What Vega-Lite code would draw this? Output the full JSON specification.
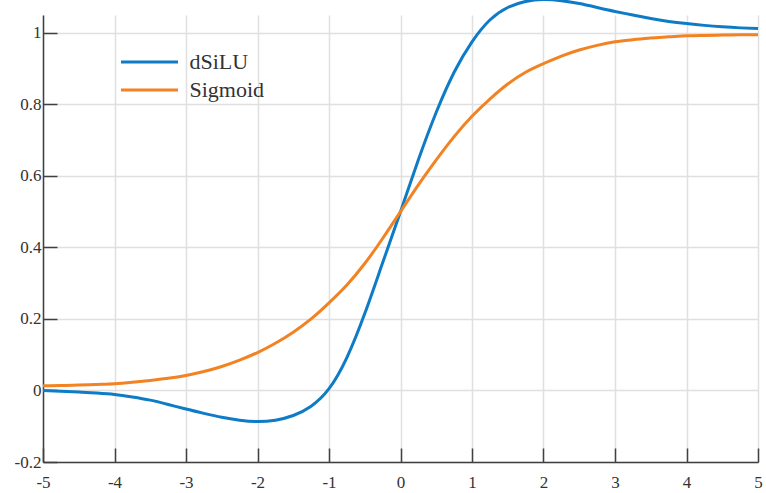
{
  "$schema": "https://vega.github.io/schema/vega-lite/v6.json",
  "width": 715,
  "height": 447,
  "autosize": {"type": "none"},
  "padding": {"left": 43, "top": 15, "right": 8, "bottom": 31},
  "background": "white",
  "config": {
    "view": {"stroke": null},
    "font": "Liberation Serif",
    "axis": {"labelFont": "Liberation Serif", "labelFontSize": 17, "labelColor": "#333333"},
    "legend": {"labelFont": "Liberation Serif"}
  },
  "data": {"values": [
    {"x": -5, "s": "dSiLU", "y": 0.000}, {"x": -4.75, "s": "dSiLU", "y": -0.002}, {"x": -4.5, "s": "dSiLU", "y": -0.004}, {"x": -4.25, "s": "dSiLU", "y": -0.007},
    {"x": -4, "s": "dSiLU", "y": -0.011}, {"x": -3.75, "s": "dSiLU", "y": -0.018}, {"x": -3.5, "s": "dSiLU", "y": -0.027}, {"x": -3.25, "s": "dSiLU", "y": -0.039},
    {"x": -3, "s": "dSiLU", "y": -0.052}, {"x": -2.75, "s": "dSiLU", "y": -0.064}, {"x": -2.5, "s": "dSiLU", "y": -0.075}, {"x": -2.25, "s": "dSiLU", "y": -0.083},
    {"x": -2, "s": "dSiLU", "y": -0.087}, {"x": -1.75, "s": "dSiLU", "y": -0.083}, {"x": -1.5, "s": "dSiLU", "y": -0.070}, {"x": -1.25, "s": "dSiLU", "y": -0.044},
    {"x": -1, "s": "dSiLU", "y": 0.005}, {"x": -0.75, "s": "dSiLU", "y": 0.092}, {"x": -0.5, "s": "dSiLU", "y": 0.215}, {"x": -0.25, "s": "dSiLU", "y": 0.357},
    {"x": 0, "s": "dSiLU", "y": 0.500}, {"x": 0.25, "s": "dSiLU", "y": 0.645}, {"x": 0.5, "s": "dSiLU", "y": 0.778}, {"x": 0.75, "s": "dSiLU", "y": 0.890},
    {"x": 1, "s": "dSiLU", "y": 0.975}, {"x": 1.25, "s": "dSiLU", "y": 1.036}, {"x": 1.5, "s": "dSiLU", "y": 1.071}, {"x": 1.75, "s": "dSiLU", "y": 1.088},
    {"x": 2, "s": "dSiLU", "y": 1.093}, {"x": 2.25, "s": "dSiLU", "y": 1.090}, {"x": 2.5, "s": "dSiLU", "y": 1.082}, {"x": 2.75, "s": "dSiLU", "y": 1.071},
    {"x": 3, "s": "dSiLU", "y": 1.060}, {"x": 3.25, "s": "dSiLU", "y": 1.050}, {"x": 3.5, "s": "dSiLU", "y": 1.040}, {"x": 3.75, "s": "dSiLU", "y": 1.032},
    {"x": 4, "s": "dSiLU", "y": 1.026}, {"x": 4.25, "s": "dSiLU", "y": 1.021}, {"x": 4.5, "s": "dSiLU", "y": 1.017}, {"x": 4.75, "s": "dSiLU", "y": 1.014},
    {"x": 5, "s": "dSiLU", "y": 1.012},
    {"x": -5, "s": "Sigmoid", "y": 0.013}, {"x": -4.75, "s": "Sigmoid", "y": 0.014}, {"x": -4.5, "s": "Sigmoid", "y": 0.015}, {"x": -4.25, "s": "Sigmoid", "y": 0.017},
    {"x": -4, "s": "Sigmoid", "y": 0.019}, {"x": -3.75, "s": "Sigmoid", "y": 0.023}, {"x": -3.5, "s": "Sigmoid", "y": 0.028}, {"x": -3.25, "s": "Sigmoid", "y": 0.034},
    {"x": -3, "s": "Sigmoid", "y": 0.042}, {"x": -2.75, "s": "Sigmoid", "y": 0.053}, {"x": -2.5, "s": "Sigmoid", "y": 0.067}, {"x": -2.25, "s": "Sigmoid", "y": 0.085},
    {"x": -2, "s": "Sigmoid", "y": 0.106}, {"x": -1.75, "s": "Sigmoid", "y": 0.132}, {"x": -1.5, "s": "Sigmoid", "y": 0.163}, {"x": -1.25, "s": "Sigmoid", "y": 0.200},
    {"x": -1, "s": "Sigmoid", "y": 0.245}, {"x": -0.75, "s": "Sigmoid", "y": 0.295}, {"x": -0.5, "s": "Sigmoid", "y": 0.355}, {"x": -0.25, "s": "Sigmoid", "y": 0.425},
    {"x": 0, "s": "Sigmoid", "y": 0.500}, {"x": 0.25, "s": "Sigmoid", "y": 0.575}, {"x": 0.5, "s": "Sigmoid", "y": 0.645}, {"x": 0.75, "s": "Sigmoid", "y": 0.710},
    {"x": 1, "s": "Sigmoid", "y": 0.767}, {"x": 1.25, "s": "Sigmoid", "y": 0.815}, {"x": 1.5, "s": "Sigmoid", "y": 0.857}, {"x": 1.75, "s": "Sigmoid", "y": 0.890},
    {"x": 2, "s": "Sigmoid", "y": 0.914}, {"x": 2.25, "s": "Sigmoid", "y": 0.935}, {"x": 2.5, "s": "Sigmoid", "y": 0.952}, {"x": 2.75, "s": "Sigmoid", "y": 0.965},
    {"x": 3, "s": "Sigmoid", "y": 0.975}, {"x": 3.25, "s": "Sigmoid", "y": 0.981}, {"x": 3.5, "s": "Sigmoid", "y": 0.986}, {"x": 3.75, "s": "Sigmoid", "y": 0.989},
    {"x": 4, "s": "Sigmoid", "y": 0.992}, {"x": 4.25, "s": "Sigmoid", "y": 0.993}, {"x": 4.5, "s": "Sigmoid", "y": 0.994}, {"x": 4.75, "s": "Sigmoid", "y": 0.995},
    {"x": 5, "s": "Sigmoid", "y": 0.995}
  ]},
  "mark": {"type": "line", "interpolate": "natural", "strokeWidth": 3, "clip": false},
  "encoding": {
    "x": {
      "field": "x", "type": "quantitative",
      "scale": {"domain": [-5, 5], "nice": false, "zero": false},
      "axis": {
        "title": null, "values": [-5, -4, -3, -2, -1, 0, 1, 2, 3, 4, 5],
        "labelExpr": "'' + datum.value",
        "grid": true, "gridColor": "#e0e0e0", "gridWidth": 1.5,
        "domainColor": "#404040", "domainWidth": 1.5,
        "tickColor": "#404040", "tickWidth": 1.5, "tickSize": -14,
        "labelPadding": 26, "labelFontSize": 17, "labelColor": "#333333",
        "labelFont": "Liberation Serif", "labelFlush": false, "labelOverlap": false
      }
    },
    "y": {
      "field": "y", "type": "quantitative",
      "scale": {"domain": [-0.2, 1.05], "nice": false, "zero": false},
      "axis": {
        "title": null, "values": [-0.2, 0, 0.2, 0.4, 0.6, 0.8, 1],
        "labelExpr": "'' + datum.value",
        "grid": true, "gridColor": "#e0e0e0", "gridWidth": 1.5,
        "domainColor": "#404040", "domainWidth": 1.5,
        "tickColor": "#404040", "tickWidth": 1.5, "tickSize": -14,
        "labelPadding": 16, "labelFontSize": 17, "labelColor": "#333333",
        "labelFont": "Liberation Serif", "labelFlush": false, "labelOverlap": false
      }
    },
    "color": {
      "field": "s", "type": "nominal",
      "scale": {"domain": ["dSiLU", "Sigmoid"], "range": ["#0E7BC6", "#F28222"]},
      "legend": {
        "orient": "none", "legendX": 95.5, "legendY": 36, "title": null,
        "symbolType": "M-3,0H3", "symbolSize": 361, "symbolStrokeWidth": 3,
        "labelFontSize": 22, "labelFont": "Liberation Serif", "labelColor": "#333333",
        "labelOffset": 29, "rowPadding": 6
      }
    }
  }
}
